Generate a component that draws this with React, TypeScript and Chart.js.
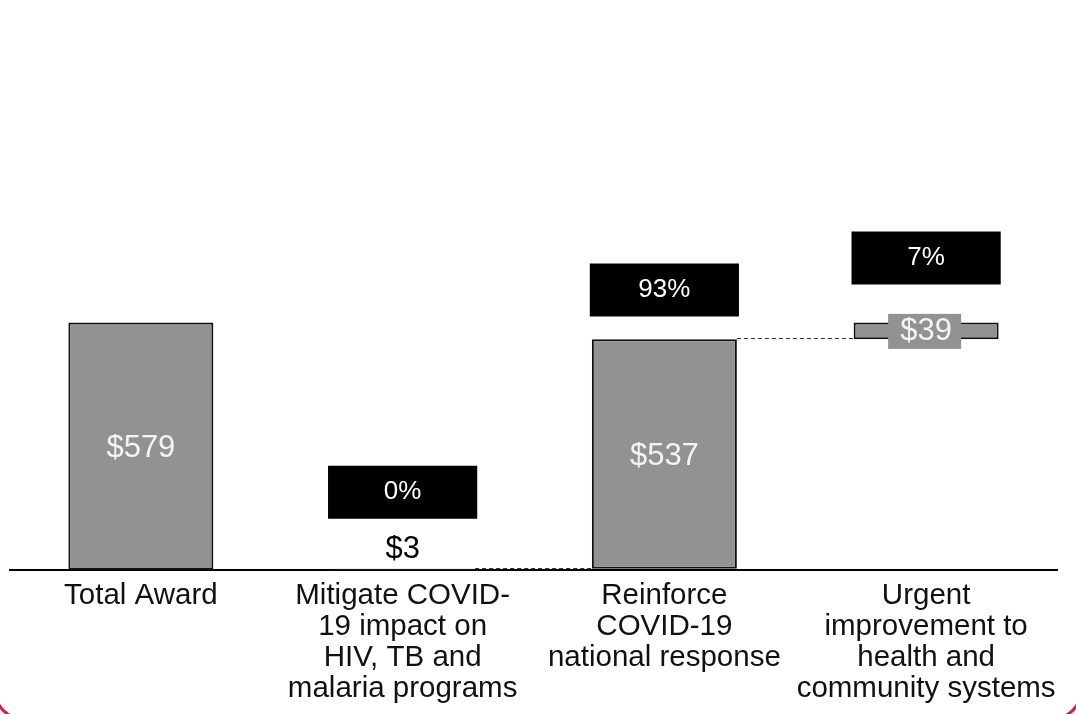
import React, { useEffect, useRef } from "react";
import { Chart, registerables } from "chart.js";

Chart.register(...registerables);

const categories: string[][] = [
  ["Total Award"],
  ["Mitigate COVID-", "19 impact on", "HIV, TB and", "malaria programs"],
  ["Reinforce", "COVID-19", "national response"],
  ["Urgent", "improvement to", "health and", "community systems"],
];
const amounts = [579, 3, 537, 39];
const valueLabels = ["$579", "$3", "$537", "$39"];
const shareLabels = ["", "0%", "93%", "7%"];
const shareBoxLow = [null, 120, 593, 668];
const shareBoxHigh = [null, 244, 717, 792];
const yMax = 1200;

const FONT = "'Liberation Sans', Arial, Helvetica, sans-serif";
const GRAY = "#929292";

export default function App() {
  const ref = useRef<HTMLCanvasElement | null>(null);

  useEffect(() => {
    if (!ref.current) return;
    const ranges: [number, number][] = [];
    const ends: number[] = [];
    let run = 0;
    amounts.forEach((a, i) => {
      if (i === 0) {
        ranges.push([0, a]);
        ends.push(a);
      } else {
        ranges.push([run, run + a]);
        run += a;
        ends.push(run);
      }
    });
    const boxes = shareBoxLow.map((lo, i) =>
      lo === null || shareBoxHigh[i] === null ? null : [lo, shareBoxHigh[i] as number]
    );

    const labelPlugin = {
      id: "wfLabels",
      afterDatasetsDraw(chart: any) {
        const ctx = chart.ctx;
        const y = chart.scales.y;
        const m0 = chart.getDatasetMeta(0);
        const m1 = chart.getDatasetMeta(1);
        ctx.save();
        ctx.strokeStyle = "#333";
        ctx.lineWidth = 1;
        ctx.setLineDash([4, 3]);
        for (let i = 1; i < m0.data.length - 1; i++) {
          const a = m0.data[i];
          const b = m0.data[i + 1];
          const py = Math.round(y.getPixelForValue(ends[i])) - 0.5;
          ctx.beginPath();
          ctx.moveTo(a.x + a.width / 2, py);
          ctx.lineTo(b.x - b.width / 2, py);
          ctx.stroke();
        }
        ctx.setLineDash([]);
        ctx.textAlign = "center";
        ctx.textBaseline = "middle";
        m0.data.forEach((el: any, i: number) => {
          const top = Math.min(el.y, el.base);
          const bot = Math.max(el.y, el.base);
          const cy = (top + bot) / 2;
          ctx.font = `31px ${FONT}`;
          if (i === 1) {
            ctx.fillStyle = "#000";
            ctx.fillText(valueLabels[i], el.x, top - 19);
          } else if (i === 3) {
            ctx.fillStyle = GRAY;
            ctx.fillRect(el.x - 38, cy - 17, 73, 35);
            ctx.fillStyle = "#f4f4f4";
            ctx.fillText(valueLabels[i], el.x, cy + 1);
          } else {
            ctx.fillStyle = "#f4f4f4";
            ctx.fillText(valueLabels[i], el.x, cy + 2);
          }
        });
        m1.data.forEach((el: any, i: number) => {
          if (!boxes[i]) return;
          const cy = (el.y + el.base) / 2;
          ctx.font = `26px ${FONT}`;
          ctx.fillStyle = "#ffffff";
          ctx.fillText(shareLabels[i], el.x, cy);
        });
        ctx.restore();
      },
    };

    const chart = new Chart(ref.current, {
      type: "bar",
      data: {
        labels: categories,
        datasets: [
          {
            data: ranges as any,
            backgroundColor: GRAY,
            borderColor: "#111",
            borderWidth: 2,
            borderSkipped: false,
            barPercentage: 0.554,
            categoryPercentage: 1,
            grouped: false,
            order: 1,
          },
          {
            data: boxes as any,
            backgroundColor: "#000",
            borderWidth: 0,
            barPercentage: 0.57,
            categoryPercentage: 1,
            grouped: false,
            order: 2,
          },
        ],
      },
      options: {
        responsive: false,
        animation: false,
        layout: { padding: { left: 10, right: 19, top: 57, bottom: 0 } },
        plugins: {
          legend: { display: false },
          tooltip: { enabled: false },
          title: { display: false },
        },
        scales: {
          x: {
            grid: { display: false, drawTicks: false },
            border: { display: true, color: "#000", width: 2 },
            ticks: {
              color: "#111",
              font: { family: FONT, size: 29.5, lineHeight: 1.05 },
              padding: 10,
              autoSkip: false,
              maxRotation: 0,
              minRotation: 0,
            },
          },
          y: {
            display: false,
            min: 0,
            max: yMax,
          },
        },
      },
      plugins: [labelPlugin],
    });
    return () => chart.destroy();
  }, []);

  return (
    <div style={{ position: "fixed", left: 0, top: 0, width: 1076, height: 714, overflow: "hidden", background: "#fff" }}>
      <canvas ref={ref} width={1076} height={714} style={{ display: "block" }} />
      <div
        style={{
          position: "absolute",
          left: -7,
          right: -7,
          top: -60,
          bottom: -7,
          border: "3px solid #e3174b",
          borderRadius: 32,
          pointerEvents: "none",
        }}
      />
    </div>
  );
}
